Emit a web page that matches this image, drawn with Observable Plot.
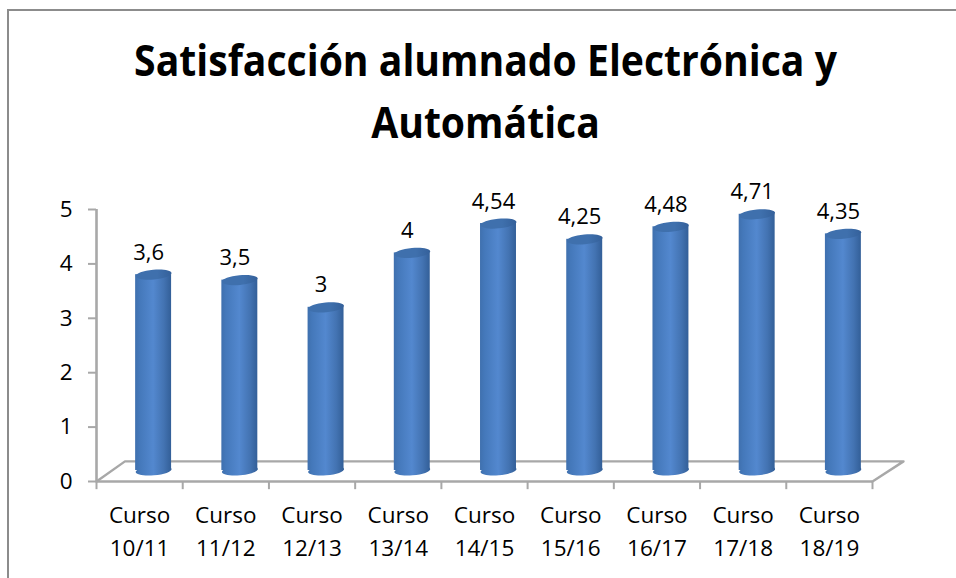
<!DOCTYPE html>
<html><head><meta charset="utf-8">
<script src="https://cdn.jsdelivr.net/npm/d3@7"></script>
<script src="https://cdn.jsdelivr.net/npm/@observablehq/plot@0.6"></script>
<style>
html,body{margin:0;padding:0;background:#fff;width:956px;height:578px;overflow:hidden}
#frame{position:absolute;left:7px;top:9px;width:949px;height:569px;border-left:2px solid #8c8c8c;border-top:2px solid #8c8c8c;box-sizing:border-box}
#title{position:absolute;left:0;top:29px;width:971px;text-align:center;font:700 43px/62px "Open Sans",sans-serif;color:#000;white-space:nowrap;transform:scaleX(0.91);transform-origin:485.5px 0}
#chart{position:absolute;left:0;top:170px}
svg{overflow:visible;background:transparent!important}
</style></head><body>
<div id="frame"></div>
<div id="title">Satisfacción alumnado Electrónica y<br>Automática</div>
<div id="chart"></div>
<script>
const cursos = ["10/11","11/12","12/13","13/14","14/15","15/16","16/17","17/18","18/19"];
const valores = [3.6,3.5,3,4,4.54,4.25,4.48,4.71,4.35];
const etiquetas = ["3,6","3,5","3","4","4,54","4,25","4,48","4,71","4,35"];
const yTicks = [0,1,2,3,4,5];
const sueloX = [0,0.33,9.36,9];
const sueloY = [0,0.37,0.37,0];

const filas = cursos.map((c,i)=>({i, curso:c, valor:valores[i], etiqueta:etiquetas[i]}));
const posiciones = cursos.map((c,i)=>i+0.5);
const bordes = d3.range(cursos.length+1);
const ancho = 0.417;
const gris = "#a8a8a8";

// An ellipse, slightly tilted as in the 3D cylinders
const elipse = {draw(ctx,size){
  const r = Math.sqrt(size/Math.PI), a=r, b=r*0.27, t=-0.09, k=0.5523;
  const P=(x,y)=>[x*Math.cos(t)-y*Math.sin(t), x*Math.sin(t)+y*Math.cos(t)];
  const m=(x,y)=>ctx.moveTo(...P(x,y));
  const c=(x1,y1,x2,y2,x,y)=>ctx.bezierCurveTo(...P(x1,y1),...P(x2,y2),...P(x,y));
  m(a,0);
  c(a,k*b,k*a,b,0,b); c(-k*a,b,-a,k*b,-a,0);
  c(-a,-k*b,-k*a,-b,0,-b); c(k*a,-b,a,-k*b,a,0);
  ctx.closePath();
}};

const gradientes = () => {
  const s = d3.create("svg:defs");
  const g = s.append("linearGradient").attr("id","cuerpo");
  [[0,"#3f70ae"],[0.12,"#4478ba"],[0.5,"#5388cf"],[0.8,"#4373b2"],[1,"#335f98"]]
    .forEach(([o,c])=>g.append("stop").attr("offset",o).attr("stop-color",c));
  const h = s.append("linearGradient").attr("id","tapa");
  [[0,"#3f70ad"],[0.6,"#3f70ad"],[1,"#34609a"]]
    .forEach(([o,c])=>h.append("stop").attr("offset",o).attr("stop-color",c));
  return s.node();
};

const off = {dx:14, dy:-11};
const rx = 18;

const plot = Plot.plot({
  width:956, height:408,
  marginLeft:96, marginRight:84, marginTop:39, marginBottom:97,
  style:{background:"transparent", overflow:"visible"},
  x:{type:"linear", domain:[0,9], label:null},
  y:{type:"linear", domain:[0,5], label:null},
  marks:[
    gradientes,
    Plot.line(sueloX,{x:d=>d, y:(d,i)=>sueloY[i], stroke:gris, strokeWidth:2.4}),
    Plot.ruleY([0],{stroke:gris, strokeWidth:2.6}),
    Plot.ruleX([0],{y1:0,y2:5,stroke:gris, strokeWidth:2.6}),
    Plot.axisY({ticks:yTicks, tickFormat:"d", tickSize:8, tickPadding:16, stroke:gris, strokeWidth:2, label:null,
      fontSize:22.5, fontFamily:"Open Sans", fill:"#000"}),
    Plot.ruleX(bordes,{x:d=>d, y1:0, y2:-0.15, stroke:gris, strokeWidth:2}),
    Plot.dot(filas,{x:d=>d.i+0.5, y:0, r:rx, symbol:elipse, fill:"url(#cuerpo)", stroke:null, ...off}),
    Plot.rectY(filas,{x1:d=>d.i+0.5-ancho/2, x2:d=>d.i+0.5+ancho/2, y1:0, y2:"valor", fill:"url(#cuerpo)", ...off}),
    Plot.dot(filas,{x:d=>d.i+0.5, y:"valor", r:rx, symbol:elipse, fill:"url(#tapa)", stroke:null, ...off}),
    Plot.text(filas,{x:d=>d.i+0.5, y:"valor", text:"etiqueta", dx:9, dy:-33, fontSize:22, fontFamily:"Open Sans", fill:"#000"}),
    Plot.axisX({ticks:posiciones, tickSize:0, tickPadding:18, label:null,
      tickFormat:(d)=>"Curso\n"+cursos[Math.floor(d)], fontSize:22.5, fontFamily:"Open Sans", fill:"#000", lineHeight:1.47, lineAnchor:"top"})
  ]
});
document.getElementById("chart").append(plot);
</script>
</body></html>
